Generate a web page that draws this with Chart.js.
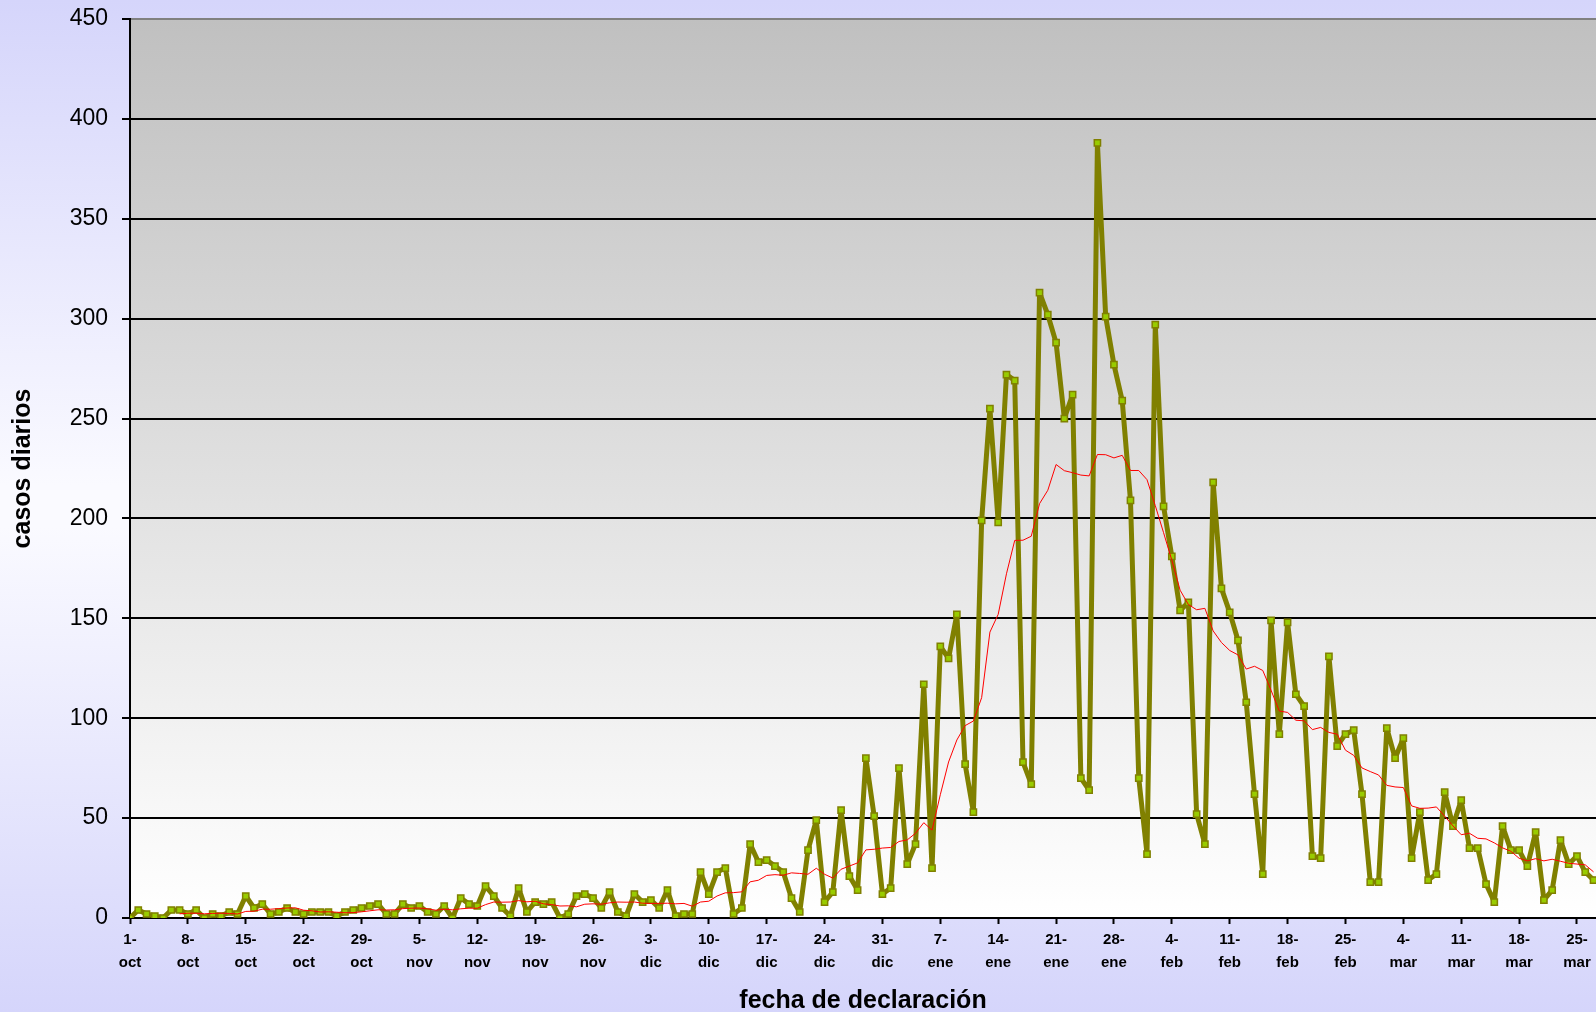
<!DOCTYPE html>
<html>
<head>
<meta charset="utf-8">
<script src="https://cdn.jsdelivr.net/npm/chart.js@4.4.0/dist/chart.umd.min.js"></script>
<style>
  html, body { margin: 0; padding: 0; }
  body {
    width: 1596px; height: 1012px; overflow: hidden;
    background: linear-gradient(to bottom, #d5d5fb 0%, #fafaff 48%, #fafaff 52%, #d5d5fb 100%);
  }
  canvas { display: block; }
</style>
</head>
<body>
<canvas id="casosChart" width="1596" height="1012"></canvas>
<script>
// week tick labels (every 7 days from 1-oct)
const tickLabels = [
  "1-oct", "8-oct", "15-oct", "22-oct", "29-oct", "5-nov", "12-nov", "19-nov", "26-nov",
  "3-dic", "10-dic", "17-dic", "24-dic", "31-dic", "7-ene", "14-ene", "21-ene", "28-ene",
  "4-feb", "11-feb", "18-feb", "25-feb", "4-mar", "11-mar", "18-mar", "25-mar"
];

// daily cases, one value per day starting 1-oct
const casos = [
  0, 4, 2, 1, 0, 4, 4, 2, 4, 0,
  2, 1, 3, 2, 11, 5, 7, 2, 3, 5,
  3, 2, 3, 3, 3, 1, 3, 4, 5, 6,
  7, 2, 2, 7, 5, 6, 3, 2, 6, 0,
  10, 7, 6, 16, 11, 5, 1, 15, 3, 8,
  7, 8, 0, 2, 11, 12, 10, 5, 13, 3,
  1, 12, 8, 9, 5, 14, 1, 2, 2, 23,
  12, 23, 25, 2, 5, 37, 28, 29, 26, 23,
  10, 3, 34, 49, 8, 13, 54, 21, 14, 80,
  51, 12, 15, 75, 27, 37, 117, 25, 136, 130,
  152, 77, 53, 199, 255, 198, 272, 269, 78, 67,
  313, 302, 288, 250, 262, 70, 64, 388, 301, 277,
  259, 209, 70, 32, 297, 206, 181, 154, 158, 52,
  37, 218, 165, 153, 139, 108, 62, 22, 149, 92,
  148, 112, 106, 31, 30, 131, 86, 92, 94, 62,
  18, 18, 95, 80, 90, 30, 53, 19, 22, 63,
  46, 59, 35, 35, 17, 8, 46, 34, 34, 26,
  43, 9, 14, 39, 27, 31, 23, 19
];

// thin red line (7-day average)
const media = [
  null, null, null, null, null, null, 2.1, 2.4, 2.4, 2.1,
  2.3, 2.4, 2.3, 2.0, 3.3, 3.4, 4.4, 4.4, 4.7, 5.0,
  5.1, 3.9, 3.6, 3.0, 3.1, 2.9, 2.6, 2.7, 3.1, 3.6,
  4.1, 4.0, 4.1, 4.7, 4.9, 5.0, 4.6, 3.9, 4.4, 4.1,
  4.6, 4.9, 4.9, 6.7, 8.0, 7.9, 8.0, 8.7, 8.1, 8.4,
  7.1, 6.7, 6.0, 6.1, 5.6, 6.9, 7.1, 6.9, 7.6, 8.0,
  7.9, 8.0, 7.4, 7.3, 7.3, 7.4, 7.1, 7.3, 5.9, 8.0,
  8.4, 11.0, 12.6, 12.7, 13.1, 18.1, 18.9, 21.3, 21.7, 21.4,
  22.6, 22.3, 21.9, 24.9, 21.9, 20.0, 24.4, 26.0, 27.6, 34.1,
  34.4, 35.0, 35.3, 38.3, 39.1, 42.4, 47.7, 44.0, 61.7, 78.1,
  89.1, 96.3, 98.6, 110.3, 143.1, 152.0, 172.3, 189.0, 189.1, 191.1,
  207.4, 214.1, 227.0, 223.9, 222.9, 221.7, 221.3, 232.0, 231.9, 230.3,
  231.6, 224.0, 224.0, 219.4, 206.4, 192.9, 179.1, 164.1, 156.9, 154.3,
  155.0, 143.7, 137.9, 133.9, 131.7, 124.6, 126.0, 123.9, 114.0, 103.6,
  102.9, 99.0, 98.7, 94.3, 95.4, 92.9, 92.0, 84.0, 81.4, 75.1,
  73.3, 71.6, 66.4, 65.6, 65.3, 56.1, 54.9, 55.0, 55.6, 51.0,
  46.1, 41.7, 42.4, 39.9, 39.6, 37.6, 35.1, 33.4, 29.9, 28.6,
  29.7, 28.6, 29.4, 28.4, 27.4, 27.0, 26.6, 23.1
];

const FONT = "'Liberation Sans', Arial, sans-serif";
const X_MAX = 177.3; // chart is cut at the right edge

const toPoints = (arr) => arr.map((v, i) => ({ x: i, y: v }));

// gray to white fill behind the plot
const plotBackground = {
  id: "plotBackground",
  beforeDraw(chart) {
    const { ctx, chartArea: a } = chart;
    const g = ctx.createLinearGradient(0, a.top, 0, a.bottom);
    g.addColorStop(0, "#c0c0c0");
    g.addColorStop(1, "#ffffff");
    ctx.save();
    ctx.fillStyle = g;
    ctx.fillRect(a.left, a.top, a.right - a.left, a.bottom - a.top);
    ctx.restore();
  }
};

new Chart(document.getElementById("casosChart"), {
  type: "line",
  data: {
    datasets: [
      {
        label: "media",
        data: toPoints(media),
        borderColor: "#ff0000",
        borderWidth: 1,
        pointRadius: 0,
        tension: 0,
        order: 0
      },
      {
        label: "casos diarios",
        data: toPoints(casos),
        borderColor: "#808000",
        borderWidth: 5,
        borderJoinStyle: "round",
        pointStyle: "rect",
        pointRadius: 4.4,
        pointBackgroundColor: "#99cc00",
        pointBorderColor: "#808000",
        pointBorderWidth: 1.5,
        tension: 0,
        order: 1
      }
    ]
  },
  options: {
    responsive: false,
    animation: false,
    layout: {
      autoPadding: false, // otherwise the point size eats into the right edge
      padding: { top: 19, right: 0, bottom: 0, left: 0 }
    },
    plugins: {
      legend: { display: false },
      tooltip: { enabled: false }
    },
    scales: {
      x: {
        type: "linear",
        min: 0,
        max: X_MAX,
        afterFit: (scale) => {
          scale.height = 94;
          scale.paddingLeft = 0;
          scale.paddingRight = 0;
        },
        afterBuildTicks: (scale) => {
          scale.ticks = tickLabels.map((_, k) => ({ value: k * 7 }));
        },
        grid: {
          drawOnChartArea: false,
          drawTicks: true,
          tickLength: 6,
          tickColor: "#000000",
          tickWidth: 2
        },
        border: { color: "#000000", width: 2 },
        ticks: {
          autoSkip: false,
          maxRotation: 0,
          padding: 5,
          color: "#000000",
          font: { family: FONT, size: 15, weight: "bold", lineHeight: 1.5 },
          callback: (value) => {
            const s = tickLabels[Math.round(value / 7)];
            if (!s) return "";
            const [d, m] = s.split("-");
            return [d + "-", m];
          }
        },
        title: {
          display: true,
          text: "fecha de declaración",
          color: "#000000",
          padding: { top: 0, bottom: 0 },
          font: { family: FONT, size: 25, weight: "bold", lineHeight: 0.85 }
        }
      },
      y: {
        min: 0,
        max: 450,
        afterFit: (scale) => {
          scale.width = 130;
          scale.paddingTop = 0;
          scale.paddingBottom = 0;
        },
        ticks: {
          stepSize: 50,
          padding: 14,
          color: "#000000",
          font: { family: FONT, size: 23 }
        },
        grid: {
          color: (c) => (c.tick && c.tick.value === 450 ? "#808080" : "#000000"),
          lineWidth: 2,
          tickLength: 8,
          tickColor: "#000000",
          tickWidth: 2
        },
        border: { color: "#000000", width: 2 },
        title: {
          display: true,
          text: "casos diarios",
          color: "#000000",
          padding: { top: 11, bottom: 0 },
          font: { family: FONT, size: 25, weight: "bold", lineHeight: 1 }
        }
      }
    }
  },
  plugins: [plotBackground]
});
</script>
</body>
</html>
